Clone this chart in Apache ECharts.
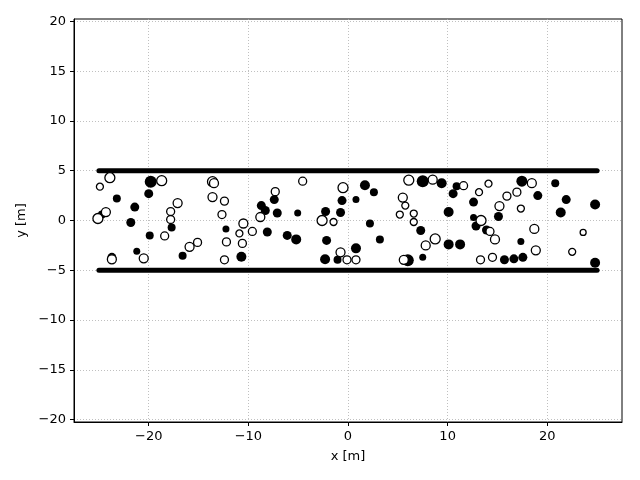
<!DOCTYPE html>
<html>
<head>
<meta charset="utf-8">
<script src="https://cdn.jsdelivr.net/npm/echarts@6/dist/echarts.min.js"></script>
<style>
  html, body { margin: 0; padding: 0; background: #fff; }
</style>
</head>
<body>
<div id="chart" style="width: 640px; height: 480px"></div>
<script>
// walls
var wallX = [-25, 25];
var wallY = [5, -5];

// filled markers: x, y, size
var filledX = [-19.8, -20.0, -23.2, -21.4, -24.7, -21.8, -17.7, -19.9, -21.2, -23.7, -16.6, -12.25, -8.7, -8.3, -8.1, -10.7, -7.4, -7.1, -5.05, -6.1, -5.2, -2.25, -0.75, -0.6, 0.8, -2.15, -2.3, -1.05, 0.8, 1.7, 2.6, 2.2, 3.2, 7.5, 9.4, 7.3, 7.5, 6.0, 10.1, 10.1, 10.9, 10.55, 12.6, 12.6, 12.85, 13.9, 15.1, 11.25, 17.35, 15.7, 16.65, 17.55, 17.45, 19.05, 20.8, 21.9, 21.35, 24.8, 24.8];
var filledY = [3.9, 2.7, 2.2, 1.35, 0.6, -0.2, -0.7, -1.5, -3.1, -3.7, -3.55, -0.85, 1.5, 1.0, -1.15, -3.65, 2.1, 0.75, 0.75, -1.5, -1.9, 0.9, 0.8, 2.0, 2.1, -2.0, -3.9, -3.95, -2.8, 3.55, 2.85, -0.3, -1.9, 3.95, 3.75, -1.0, -3.7, -4.0, 0.85, -2.4, 3.45, 2.7, 1.85, 0.3, -0.55, -0.95, 0.4, -2.4, -2.1, -3.95, -3.85, -3.7, 3.95, 2.5, 3.75, 2.1, 0.8, 1.6, -4.25];
var filledS = [12, 9, 8, 9, 8, 9, 8, 8, 7, 9, 8, 7, 9, 9, 9, 10, 9, 9, 7, 9, 10, 9, 9, 9, 7, 9, 10, 8, 10, 10, 8, 8, 8, 12, 10, 9, 7, 12, 10, 10, 8, 9, 9, 7, 9, 9, 9, 10, 7, 9, 9, 9, 11, 9, 8, 9, 10, 10, 10];

// open markers: x, y, size
var openX = [-23.9, -24.9, -18.7, -17.1, -24.3, -25.1, -17.8, -17.8, -18.4, -20.5, -23.7, -13.6, -13.45, -13.6, -12.4, -12.65, -8.8, -10.5, -10.9, -9.6, -12.2, -10.6, -15.1, -15.9, -12.4, -4.55, -7.3, -0.5, -2.6, -1.45, -0.75, -0.1, 0.8, 6.1, 8.5, 5.5, 5.75, 5.2, 6.6, 6.6, 8.75, 7.8, 5.6, 11.6, 13.15, 14.1, 15.2, 15.95, 16.95, 18.45, 17.35, 13.35, 14.25, 14.75, 18.7, 18.85, 13.3, 14.5, 23.6, 22.5];
var openY = [4.3, 3.4, 4.0, 1.75, 0.85, 0.2, 0.9, 0.1, -1.55, -3.8, -3.9, 3.9, 3.75, 2.35, 1.95, 0.6, 0.35, -0.3, -1.3, -1.1, -2.15, -2.3, -2.2, -2.65, -3.95, 3.95, 2.9, 3.3, 0.0, -0.15, -3.2, -3.95, -3.95, 4.05, 4.1, 2.3, 1.5, 0.6, 0.7, -0.15, -1.85, -2.5, -3.95, 3.5, 2.85, 3.7, 1.45, 2.45, 2.85, 3.75, 1.2, 0.0, -1.1, -1.9, -0.85, -3.0, -3.95, -3.7, -1.2, -3.15];
var openS = [10, 7, 10, 9, 9, 10, 8, 8, 8, 9, 9, 10, 9, 9, 8, 8, 9, 9, 7, 8, 8, 8, 8, 9, 8, 8, 8, 10, 10, 7, 9, 8, 8, 10, 9, 9, 7, 7, 7, 7, 10, 9, 9, 8, 7, 7, 9, 8, 8, 9, 7, 10, 8, 9, 9, 9, 8, 8, 6, 7];

var xTicks = [-20, -10, 0, 10, 20];
var yTicks = [-20, -15, -10, -5, 0, 5, 10, 15, 20];

function zip(xs, ys, ss) {
  var out = [];
  for (var i = 0; i < xs.length; i++) {
    out.push([xs[i], ys[i], ss[i]]);
  }
  return out;
}

function minus(v) {
  return String(v).replace('-', '\u2212');
}

var chart = echarts.init(document.getElementById('chart'));

var axisCommon = {
  type: 'value',
  axisLine: { show: true, onZero: false, lineStyle: { color: '#000', width: 1 } },
  axisTick: { show: true, inside: false, length: 4, lineStyle: { color: '#000' } },
  axisLabel: { color: '#000', fontSize: 13, fontFamily: 'DejaVu Sans', formatter: minus },
  splitLine: { show: true, lineStyle: { color: '#b0b0b0', type: [1, 2], width: 0.8 } },
  nameTextStyle: { color: '#000', fontSize: 13, fontFamily: 'DejaVu Sans' },
  nameLocation: 'middle'
};

var series = [];
for (var k = 0; k < wallY.length; k++) {
  series.push({
    type: 'line',
    data: [[wallX[0], wallY[k]], [wallX[1], wallY[k]]],
    symbol: 'none',
    silent: true,
    lineStyle: { color: '#000', width: 5, cap: 'round' },
    z: 2
  });
}
series.push({
  type: 'scatter',
  data: zip(filledX, filledY, filledS),
  symbolSize: function (d) { return d[2]; },
  itemStyle: { color: '#000', opacity: 1 },
  z: 3
});
series.push({
  type: 'scatter',
  data: zip(openX, openY, openS),
  symbolSize: function (d) { return d[2]; },
  itemStyle: { color: '#fff', borderColor: '#000', borderWidth: 1.3, opacity: 1 },
  z: 4
});

var option = {
  animation: false,
  grid: {
    left: 74, right: 18, top: 19, bottom: 58,
    show: true, borderColor: '#000', borderWidth: 1
  },
  xAxis: Object.assign({}, axisCommon, {
    min: -27.5, max: 27.5,
    name: 'x [m]', nameGap: 28,
    axisTick: Object.assign({}, axisCommon.axisTick, { customValues: xTicks }),
    axisLabel: Object.assign({}, axisCommon.axisLabel, { customValues: xTicks, margin: 8 })
  }),
  yAxis: Object.assign({}, axisCommon, {
    min: -20.25, max: 20.25,
    name: 'y [m]', nameGap: 40, nameRotate: 90,
    axisTick: Object.assign({}, axisCommon.axisTick, { customValues: yTicks }),
    axisLabel: Object.assign({}, axisCommon.axisLabel, { customValues: yTicks, margin: 8 })
  }),
  series: series
};

chart.setOption(option);
</script>
</body>
</html>
